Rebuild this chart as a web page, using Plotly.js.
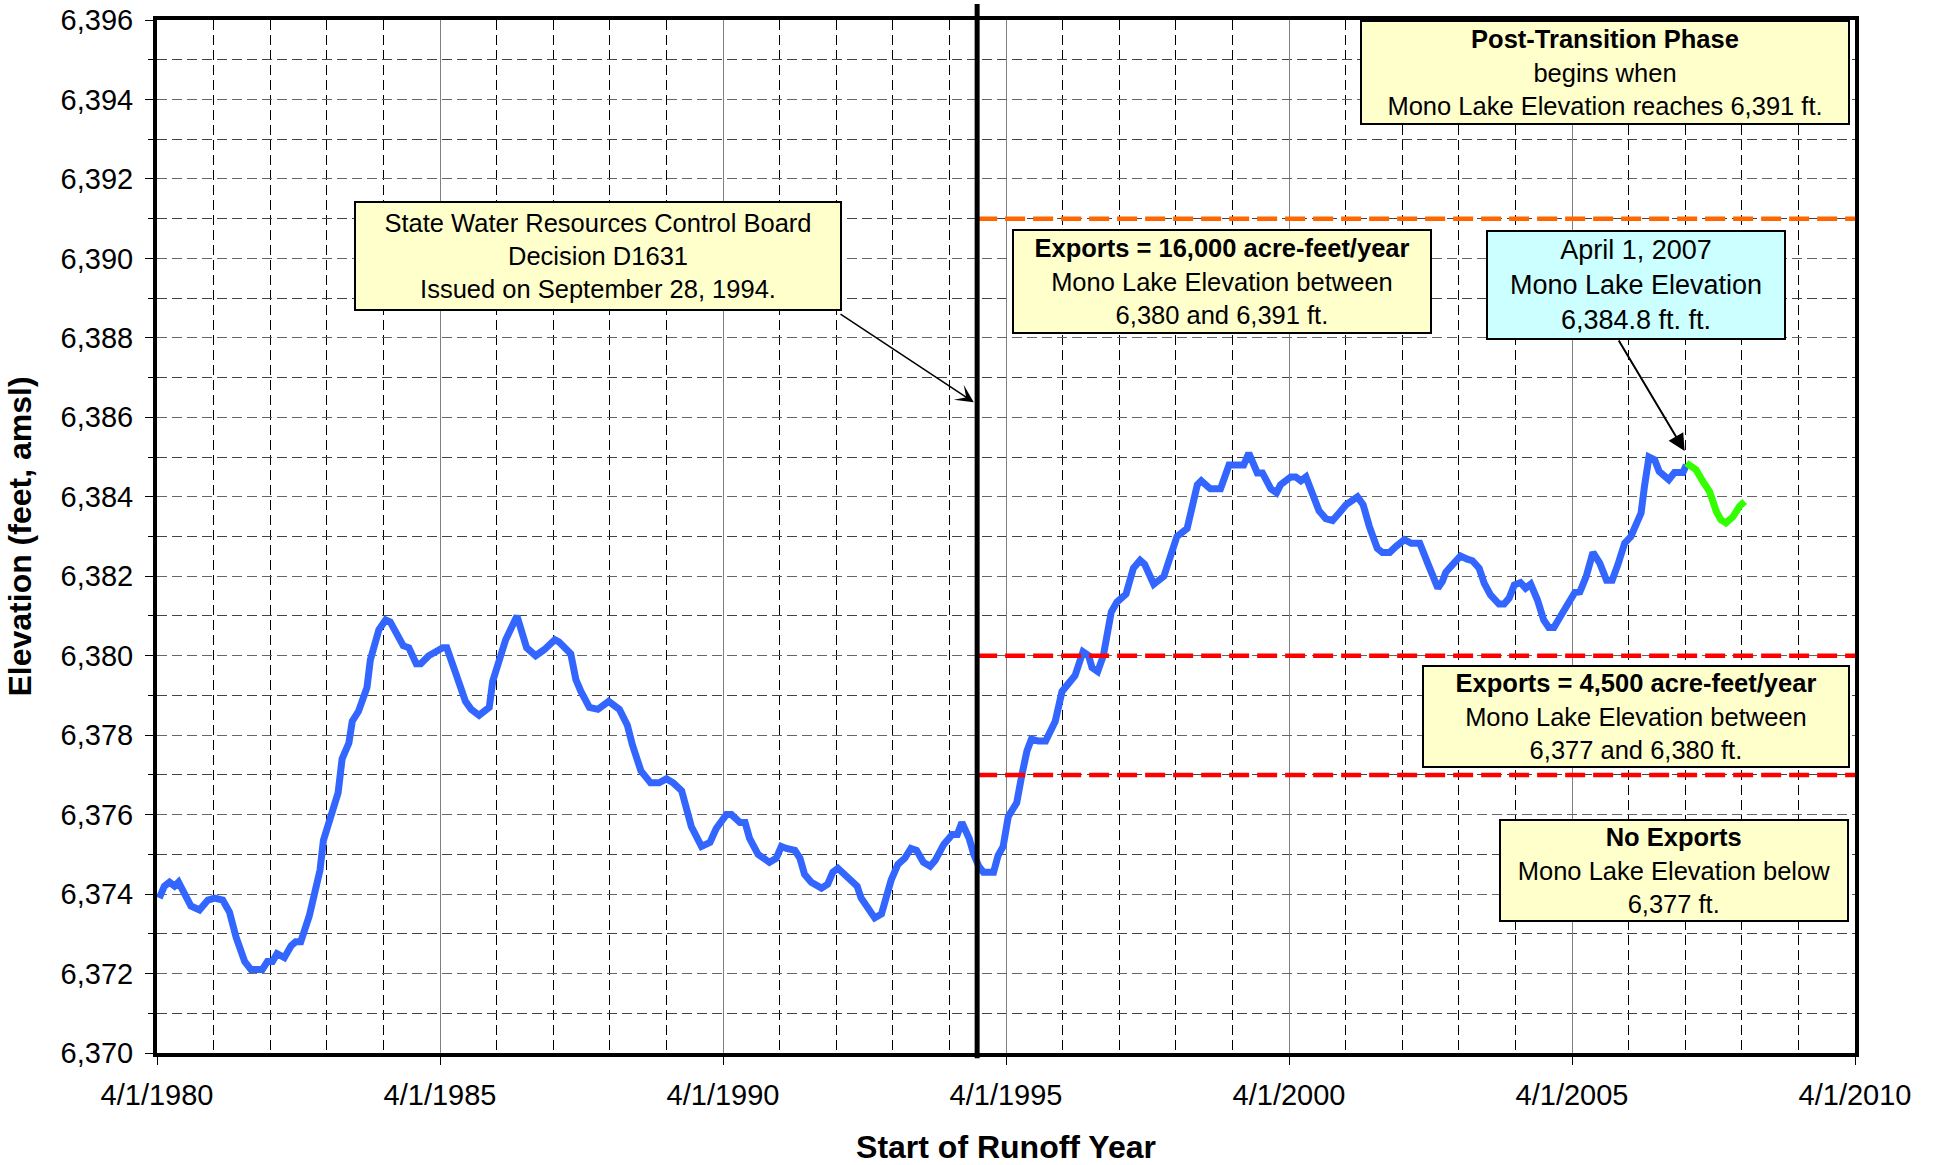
<!DOCTYPE html>
<html>
<head>
<meta charset="utf-8">
<script src="https://cdn.plot.ly/plotly-3.0.1.min.js"></script>
<style>html,body{margin:0;padding:0;background:#fff}#chart{width:1934px;height:1165px}</style>
</head>
<body>
<div id="chart"></div>
<script>
// Recorded Mono Lake elevation (decimal year, feet amsl)
const recordedYears = [
1980.29,1980.38,1980.47,1980.56,1980.63,1980.85,1981.00,1981.15,1981.27,1981.41,1981.53,1981.65,1981.80,1981.91,
1982.11,1982.20,1982.29,1982.37,1982.50,1982.62,1982.70,1982.79,1982.94,1983.05,1983.13,1983.19,1983.32,1983.45,
1983.52,1983.64,1983.70,1983.81,1983.96,1984.02,1984.17,1984.29,1984.37,1984.52,1984.60,1984.70,1984.83,1984.91,
1985.05,1985.30,1985.37,1985.53,1985.70,1985.80,1985.94,1986.12,1986.18,1986.30,1986.41,1986.61,1986.68,1986.78,
1986.94,1987.09,1987.28,1987.35,1987.56,1987.65,1987.74,1987.89,1988.04,1988.23,1988.42,1988.56,1988.65,1988.74,
1988.80,1988.97,1989.12,1989.25,1989.37,1989.52,1989.60,1989.69,1989.87,1990.02,1990.13,1990.31,1990.40,1990.55,
1990.64,1990.72,1990.87,1991.07,1991.19,1991.28,1991.37,1991.52,1991.61,1991.69,1991.81,1991.99,1992.10,1992.19,
1992.28,1992.46,1992.55,1992.62,1992.69,1992.78,1992.93,1993.05,1993.14,1993.22,1993.34,1993.46,1993.57,1993.67,
1993.79,1993.91,1994.00,1994.15,1994.30,1994.39,1994.47,1994.60,1994.68,1994.77,1994.85,1995.03,1995.11,1995.20,
1995.29,1995.44,1995.53,1995.62,1995.70,1995.82,1995.95,1996.12,1996.24,1996.32,1996.47,1996.61,1996.71,1996.77,
1996.87,1996.97,1997.03,1997.11,1997.21,1997.30,1997.37,1997.50,1997.62,1997.70,1997.86,1998.04,1998.15,1998.27,
1998.45,1998.51,1998.63,1998.70,1998.86,1999.04,1999.19,1999.45,1999.54,1999.69,1999.78,1999.93,2000.03,2000.10,
2000.28,2000.37,2000.46,2000.55,2000.66,2000.78,2000.90,2001.02,2001.14,2001.26,2001.46,2001.56,2001.67,2001.81,
2001.90,2002.03,2002.14,2002.29,2002.41,2002.56,2002.70,2002.82,2002.88,2002.96,2003.02,2003.14,2003.28,2003.40,
2003.49,2003.61,2003.70,2003.81,2003.96,2004.05,2004.14,2004.23,2004.34,2004.43,2004.52,2004.64,2004.75,2004.84,
2004.93,2005.05,2005.18,2005.30,2005.39,2005.50,2005.62,2005.74,2005.86,2005.96,2006.06,2006.18,2006.29,2006.38,
2006.47,2006.53,2006.61,2006.71,2006.79,2006.96,2007.06,2007.21,2007.27
];
const recordedElevations = [
6373.9,6374.2,6374.3,6374.2,6374.3,6373.7,6373.6,6373.85,6373.9,6373.85,6373.55,6372.9,6372.3,6372.1,
6372.1,6372.3,6372.3,6372.5,6372.4,6372.7,6372.8,6372.8,6373.45,6374.1,6374.6,6375.35,6376.0,6376.55,
6377.4,6377.8,6378.35,6378.6,6379.2,6379.9,6380.65,6380.9,6380.85,6380.4,6380.25,6380.2,6379.8,6379.8,
6380.0,6380.2,6380.2,6379.55,6378.85,6378.65,6378.5,6378.7,6379.35,6379.9,6380.4,6381.0,6380.65,6380.2,
6380.0,6380.15,6380.4,6380.35,6380.05,6379.4,6379.1,6378.7,6378.65,6378.85,6378.65,6378.25,6377.75,6377.4,
6377.1,6376.8,6376.8,6376.9,6376.8,6376.6,6376.2,6375.7,6375.2,6375.3,6375.65,6376.0,6376.0,6375.8,
6375.8,6375.4,6375.0,6374.8,6374.9,6375.2,6375.15,6375.1,6374.9,6374.5,6374.3,6374.15,6374.25,6374.55,
6374.65,6374.4,6374.25,6374.2,6373.9,6373.7,6373.4,6373.5,6373.95,6374.35,6374.75,6374.9,6375.15,6375.1,
6374.8,6374.7,6374.85,6375.25,6375.5,6375.5,6375.8,6375.4,6375.0,6374.7,6374.55,6374.55,6374.97,6375.2,
6375.95,6376.3,6377.0,6377.6,6377.9,6377.85,6377.85,6378.35,6379.1,6379.25,6379.5,6380.1,6380.0,6379.7,
6379.6,6380.0,6380.46,6381.1,6381.35,6381.5,6381.55,6382.2,6382.4,6382.3,6381.8,6382.0,6382.5,6383.0,
6383.2,6383.6,6384.3,6384.4,6384.2,6384.2,6384.8,6384.8,6385.1,6384.6,6384.6,6384.2,6384.1,6384.3,
6384.5,6384.5,6384.4,6384.5,6384.1,6383.65,6383.45,6383.4,6383.6,6383.8,6384.0,6383.8,6383.25,6382.7,
6382.6,6382.6,6382.75,6382.92,6382.83,6382.83,6382.33,6381.82,6381.7,6381.87,6382.1,6382.29,6382.51,6382.43,
6382.39,6382.2,6381.82,6381.53,6381.3,6381.3,6381.45,6381.78,6381.84,6381.7,6381.8,6381.4,6380.9,6380.71,
6380.71,6381.0,6381.32,6381.59,6381.61,6381.99,6382.6,6382.33,6381.9,6381.9,6382.29,6382.83,6383.0,6383.29,
6383.59,6384.26,6385.0,6384.93,6384.64,6384.43,6384.61,6384.61,6384.8
];
// Period after April 1, 2007
const forecastYears = [2007.27,2007.44,2007.56,2007.68,2007.80,2007.88,2007.97,2008.09,2008.21,2008.30];
const forecastElevations = [6384.85,6384.68,6384.39,6384.13,6383.63,6383.42,6383.34,6383.49,6383.76,6383.88];

const xTickValues = [1980.25,1985.25,1990.25,1995.25,2000.25,2005.25,2010.25];
const xTickLabels = ['4/1/1980','4/1/1985','4/1/1990','4/1/1995','4/1/2000','4/1/2005','4/1/2010'];
const xRange = [1980.25, 2010.25];
const yRange = [6370, 6396];

const decisionYear = 1994.74;          // September 28, 1994
const postTransitionLevel = 6391;
const upperExportLevel = 6380;
const lowerExportLevel = 6377;

const FONT = 'Liberation Sans, Arial, Helvetica, sans-serif';

const traces = [
  {x: recordedYears, y: recordedElevations, type: 'scatter', mode: 'lines',
   line: {color: '#3366FF', width: 7}, hoverinfo: 'x+y', showlegend: false},
  {x: forecastYears, y: forecastElevations, type: 'scatter', mode: 'lines',
   line: {color: '#33FF00', width: 7}, hoverinfo: 'x+y', showlegend: false}
];

const decisionPaperX = (decisionYear - xRange[0]) / (xRange[1] - xRange[0]);

function hLine(level, color) {
  return {type: 'line', xref: 'x', yref: 'y', x0: decisionYear, x1: xRange[1], y0: level, y1: level,
          line: {color: color, width: 4.5, dash: '20px,8px'}, layer: 'above'};
}

const shapes = [
  hLine(postTransitionLevel, '#FF6600'),
  hLine(upperExportLevel, '#FF0000'),
  hLine(lowerExportLevel, '#FF0000'),
  {type: 'line', xref: 'paper', yref: 'paper', x0: decisionPaperX, x1: decisionPaperX, y0: -0.005, y1: 1.0155,
   line: {color: '#000000', width: 5}, layer: 'above'}
];

function box(text, cx, cy, w, h, bg, size) {
  return {text: text, xref: 'paper', yref: 'paper', x: cx, y: cy, xanchor: 'center', yanchor: 'middle',
          showarrow: false, width: w, height: h, bgcolor: bg, bordercolor: '#000000', borderwidth: 2, borderpad: 2,
          align: 'center', valign: 'middle', font: {family: FONT, size: size, color: '#000000'}};
}
function arrow(tailX, tailY, tipX, tipY, head, width, size) {
  return {text: '', xref: 'x', yref: 'y', axref: 'x', ayref: 'y', x: tipX, y: tipY, ax: tailX, ay: tailY,
          showarrow: true, arrowhead: head, arrowwidth: width, arrowsize: size, arrowcolor: '#000000', standoff: 0, startstandoff: 0};
}

const annotations = [
  box('State Water Resources Control Board<br>Decision D1631<br>Issued on September 28, 1994.', 0.2599, 0.7714, 480, 102, '#FFFFCC', 25.5),
  box('<b>Exports = 16,000 acre-feet/year</b><br>Mono Lake Elevation between<br>6,380 and 6,391 ft.', 0.6270, 0.7472, 412, 97, '#FFFFCC', 25.5),
  box('<b>Post-Transition Phase</b><br>begins when<br>Mono Lake Elevation reaches 6,391 ft.', 0.8528, 0.9489, 482, 97, '#FFFFCC', 25.5),
  box('April 1, 2007<br>Mono Lake Elevation<br>6,384.8 ft. ft.', 0.8711, 0.7433, 292, 102, '#CCFFFF', 27),
  box('<b>Exports = 4,500 acre-feet/year</b><br>Mono Lake Elevation between<br>6,377 and 6,380 ft.', 0.8711, 0.3259, 420, 95, '#FFFFCC', 25.5),
  box('<b>No Exports</b><br>Mono Lake Elevation below<br>6,377 ft.', 0.8934, 0.1764, 342, 95, '#FFFFCC', 25.5),
  arrow(1992.30, 6388.62, 1994.68, 6386.38, 3, 1.5, 2),
  arrow(2006.06, 6387.97, 2007.24, 6385.15, 2, 2, 1.7)
];

const layout = {
  width: 1934, height: 1165,
  margin: {l: 157, r: 79, t: 20, b: 112, pad: 0},
  paper_bgcolor: '#ffffff', plot_bgcolor: '#ffffff',
  font: {family: FONT, color: '#000000'},
  showlegend: false,
  xaxis: {
    range: xRange, type: 'linear', automargin: false,
    tickmode: 'array', tickvals: xTickValues, ticktext: xTickLabels,
    tickfont: {family: FONT, size: 29, color: '#000'},
    ticks: 'outside', ticklen: 8, tickwidth: 1, tickcolor: '#000', ticklabelstandoff: 5,
    showgrid: true, gridcolor: '#808080', gridwidth: 1,
    minor: {tick0: 1980.25, dtick: 1, showgrid: true, gridcolor: '#000000', gridwidth: 1, griddash: '10px,5px', ticks: ''},
    showline: true, linecolor: '#000000', linewidth: 4, mirror: true, zeroline: false,
    title: {text: '<b>Start of Runoff Year</b>', font: {family: FONT, size: 32, color: '#000'}, standoff: 30}
  },
  yaxis: {
    range: yRange, automargin: false,
    tick0: 6370, dtick: 2, tickformat: ',d',
    tickfont: {family: FONT, size: 29, color: '#000'},
    ticks: 'outside', ticklen: 8, tickwidth: 1, tickcolor: '#000', ticklabelstandoff: 6,
    showgrid: true, gridcolor: '#666666', gridwidth: 1, griddash: '10px,5px',
    minor: {dtick: 1, showgrid: true, gridcolor: '#444444', gridwidth: 1, griddash: '10px,5px', ticks: 'outside', ticklen: 5, tickcolor: '#000'},
    showline: true, linecolor: '#000000', linewidth: 4, mirror: true, zeroline: false,
    title: {text: '<b>Elevation (feet, amsl)</b>', font: {family: FONT, size: 32, color: '#000'}, standoff: 20}
  },
  shapes: shapes,
  annotations: annotations
};

Plotly.newPlot('chart', traces, layout, {staticPlot: true, displayModeBar: false});
</script>
</body>
</html>
